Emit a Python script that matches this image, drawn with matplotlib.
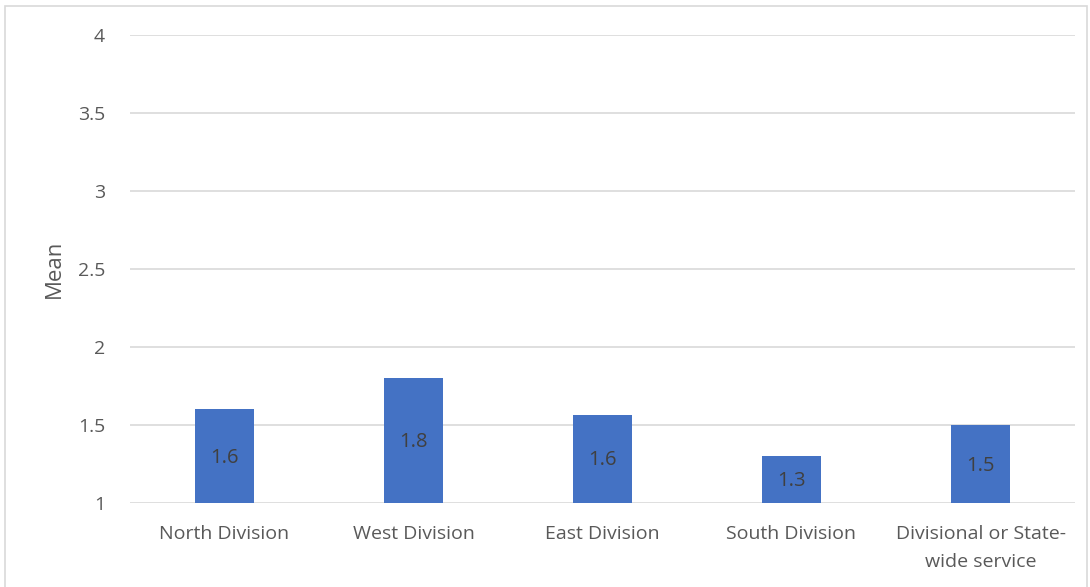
import matplotlib.pyplot as plt
from matplotlib.patches import Rectangle

categorias = ['North Division', 'West Division', 'East Division', 'South Division',
              'Divisional or State-\nwide service']
medias = [1.6, 1.8, 1.565, 1.3, 1.5]
rotulos = ['1.6', '1.8', '1.6', '1.3', '1.5']

plt.rcParams['font.family'] = ['Open Sans', 'DejaVu Sans']

fig = plt.figure(figsize=(10.9, 5.87), dpi=100)
ax = fig.add_axes([130 / 1090, 1 - 503 / 587, 945 / 1090, 468 / 587])

# moldura do grafico
fig.patches.append(Rectangle((5 / 1090, -0.01), 1082 / 1090, 1 - 6 / 587 + 0.01,
                             transform=fig.transFigure, fill=False,
                             edgecolor='#d9d9d9', linewidth=1.2))

x = list(range(len(categorias)))
barras = ax.bar(x, [m - 1 for m in medias], bottom=1, width=0.31, color='#4472C4', zorder=3)

for i, b in enumerate(barras):
    ax.text(b.get_x() + b.get_width() / 2, 1 + (medias[i] - 1) / 2 - 0.01, rotulos[i],
            ha='center', va='center', fontsize=14.5, color='#404040', zorder=4)

ax.set_xlim(-0.5, len(categorias) - 0.5)
ax.set_ylim(1, 4)
ax.set_yticks([1, 1.5, 2, 2.5, 3, 3.5, 4])
ax.set_yticklabels(['1', '1.5', '2', '2.5', '3', '3.5', '4'])
ax.set_xticks(x)
ax.set_xticklabels(categorias, fontsize=14, color='#595959', linespacing=1.7)
ax.tick_params(axis='y', labelsize=14, labelcolor='#595959', length=0, pad=18)
ax.tick_params(axis='x', length=0, pad=16)
ax.grid(axis='y', color='#d9d9d9', linewidth=1.2, zorder=0)
for s in ax.spines.values():
    s.set_visible(False)

ax.set_ylabel('Mean', fontsize=16, color='#595959', labelpad=9)

plt.savefig('out.png', dpi=100)
